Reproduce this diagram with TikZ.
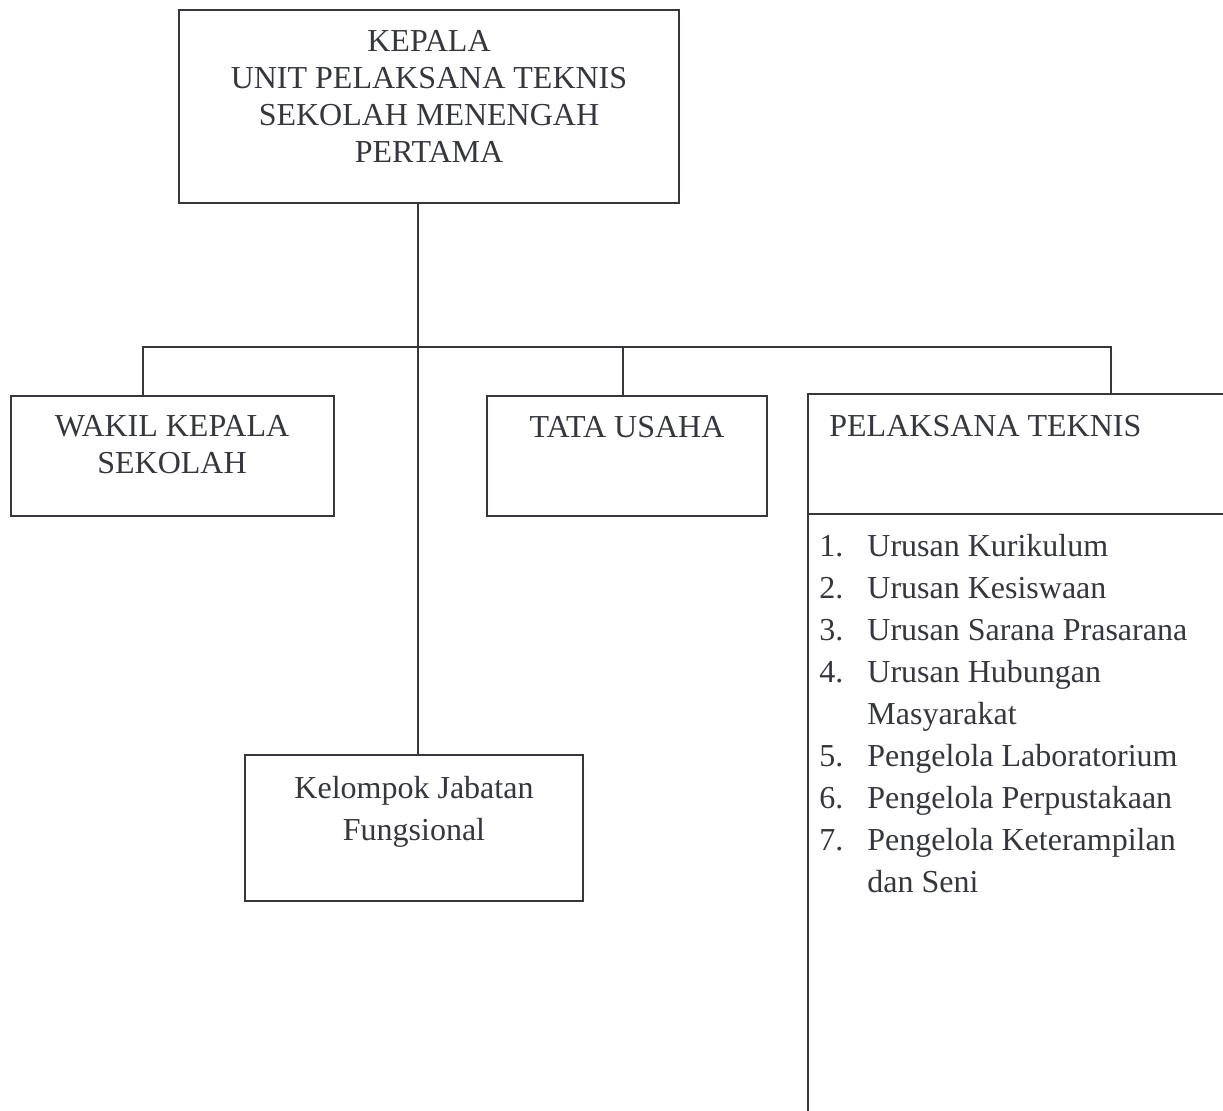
\documentclass[tikz,border=0pt]{standalone}
\usepackage{fontspec}
\setmainfont{Liberation Serif}
\definecolor{ink}{RGB}{52,54,64}
\begin{document}
\begin{tikzpicture}[x=0.5pt,y=-0.5pt,
  box/.style={draw=ink,line width=1pt,inner sep=0pt,outer sep=0pt},
  txt/.style={anchor=base,inner sep=0pt,text=ink,font=\fontsize{16}{18.5}\selectfont},
  ln/.style={draw=ink,line width=1pt}]
\useasboundingbox (0,0) rectangle (1223,1111);
% boxes
\node[box,minimum width=250pt,minimum height=96.5pt] (kepala) at (429,106.5) {};
\node[box,minimum width=161.5pt,minimum height=60pt] (wakil) at (172.5,456) {};
\node[box,minimum width=140pt,minimum height=60pt] (tata) at (627,456) {};
\node[box,minimum width=169pt,minimum height=73pt] (kel) at (414,828) {};
\coordinate (pel) at (808,394);
\coordinate (pelsep) at (808,514);
\draw[ln] (1224,394) -- (pel) -- (808,1112);
\draw[ln] (pelsep) -- (1224,514);
% texts
\node[txt] (kepalat) at (429,51.5) {\begin{tabular}[t]{@{}c@{}}KEPALA\\UNIT PELAKSANA TEKNIS\\SEKOLAH MENENGAH\\PERTAMA\end{tabular}};
\node[txt] (wakilt) at (172,437) {\begin{tabular}[t]{@{}c@{}}WAKIL KEPALA\\SEKOLAH\end{tabular}};
\node[txt] (tatat) at (627,438) {TATA USAHA};
\node[txt,anchor=base west] (pelt) at (829,436.5) {PELAKSANA TEKNIS};
\node[txt,font=\fontsize{16}{21}\selectfont] (kelt) at (414,799) {\begin{tabular}[t]{@{}c@{}}Kelompok Jabatan\\Fungsional\end{tabular}};
\node[txt,anchor=base west,font=\fontsize{16}{21}\selectfont] (list) at (819,557) {\begin{tabular}[t]{@{}p{24pt}@{}l@{}}
1.&Urusan Kurikulum\\
2.&Urusan Kesiswaan\\
3.&Urusan Sarana Prasarana\\
4.&Urusan Hubungan\\
&Masyarakat\\
5.&Pengelola Laboratorium\\
6.&Pengelola Perpustakaan\\
7.&Pengelola Keterampilan\\
&dan Seni
\end{tabular}};
% connectors
\coordinate (j) at (418,347);
\coordinate (d1) at (143,347);
\coordinate (d3) at (623,347);
\coordinate (d4) at (1111,347);
\draw[ln] (kepala.south -| j) -- (j) -- (j |- kel.north);
\draw[ln] (d1 |- wakil.north) -- (d1) -- (d4) -- (d4 |- pel);
\draw[ln] (d3) -- (d3 |- tata.north);
\end{tikzpicture}
\end{document}
